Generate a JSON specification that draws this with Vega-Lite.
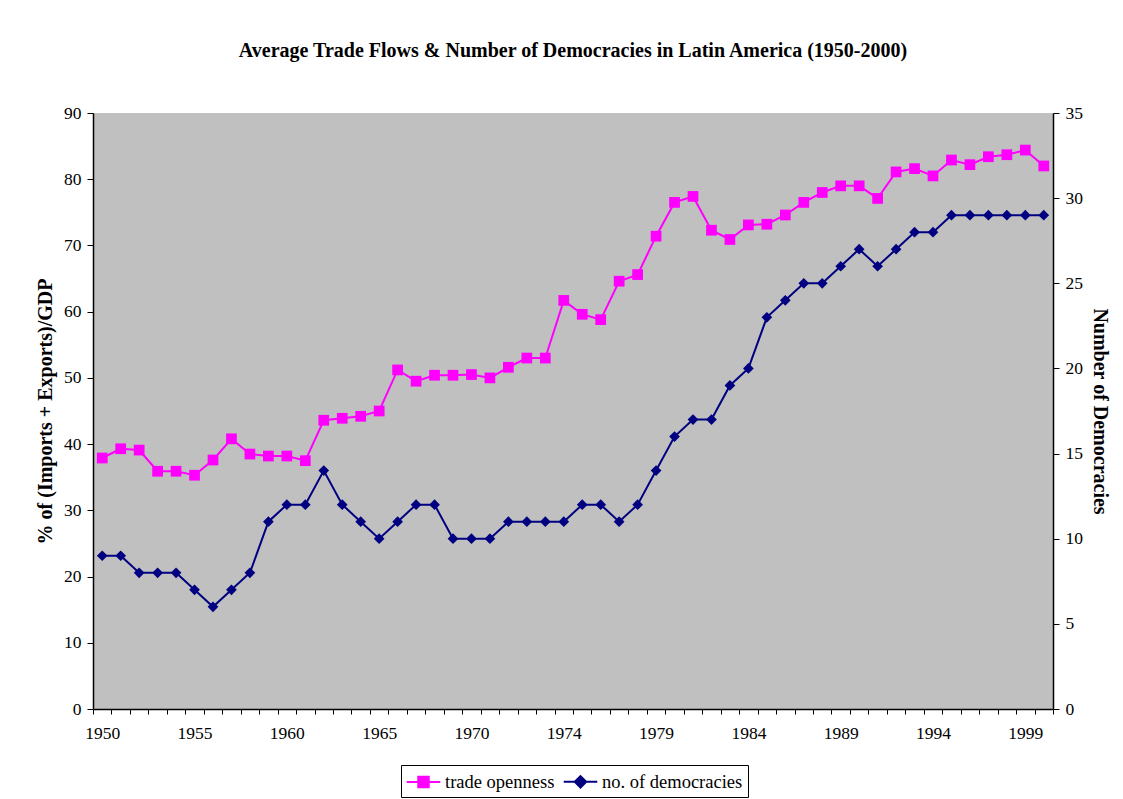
{
  "$schema": "https://vega.github.io/schema/vega-lite/v6.json",
  "width": 960,
  "height": 596,
  "autosize": {"type": "none"},
  "padding": {"left": 93, "top": 113, "right": 70, "bottom": 90},
  "background": "white",
  "title": {
    "text": "Average Trade Flows & Number of Democracies in Latin America (1950-2000)",
    "font": "Liberation Serif",
    "fontSize": 20,
    "fontWeight": "bold",
    "color": "black",
    "anchor": "middle",
    "offset": 43
  },
  "data": {
    "values": [
      {"year": "1950", "trade": 37.9, "dem": 9},
      {"year": "1951", "trade": 39.3, "dem": 9},
      {"year": "1952", "trade": 39.1, "dem": 8},
      {"year": "1953", "trade": 35.9, "dem": 8},
      {"year": "1954", "trade": 35.9, "dem": 8},
      {"year": "1955", "trade": 35.3, "dem": 7},
      {"year": "1956", "trade": 37.6, "dem": 6},
      {"year": "1957", "trade": 40.8, "dem": 7},
      {"year": "1958", "trade": 38.5, "dem": 8},
      {"year": "1959", "trade": 38.2, "dem": 11},
      {"year": "1960", "trade": 38.2, "dem": 12},
      {"year": "1961", "trade": 37.5, "dem": 12},
      {"year": "1962", "trade": 43.6, "dem": 14},
      {"year": "1963", "trade": 43.9, "dem": 12},
      {"year": "1964", "trade": 44.2, "dem": 11},
      {"year": "1965", "trade": 45.0, "dem": 10},
      {"year": "1966", "trade": 51.2, "dem": 11},
      {"year": "1967", "trade": 49.5, "dem": 12},
      {"year": "1968", "trade": 50.4, "dem": 12},
      {"year": "1969", "trade": 50.4, "dem": 10},
      {"year": "1970", "trade": 50.5, "dem": 10},
      {"year": "1971", "trade": 50.0, "dem": 10},
      {"year": "1972", "trade": 51.6, "dem": 11},
      {"year": "1973", "trade": 53.0, "dem": 11},
      {"year": "1973 (repeated)", "trade": 53.0, "dem": 11},
      {"year": "1974", "trade": 61.7, "dem": 11},
      {"year": "1975", "trade": 59.6, "dem": 12},
      {"year": "1976", "trade": 58.8, "dem": 12},
      {"year": "1977", "trade": 64.6, "dem": 11},
      {"year": "1978", "trade": 65.6, "dem": 12},
      {"year": "1979", "trade": 71.4, "dem": 14},
      {"year": "1980", "trade": 76.5, "dem": 16},
      {"year": "1981", "trade": 77.4, "dem": 17},
      {"year": "1982", "trade": 72.3, "dem": 17},
      {"year": "1983", "trade": 70.9, "dem": 19},
      {"year": "1984", "trade": 73.1, "dem": 20},
      {"year": "1985", "trade": 73.2, "dem": 23},
      {"year": "1986", "trade": 74.6, "dem": 24},
      {"year": "1987", "trade": 76.5, "dem": 25},
      {"year": "1988", "trade": 78.0, "dem": 25},
      {"year": "1989", "trade": 79.0, "dem": 26},
      {"year": "1990", "trade": 79.0, "dem": 27},
      {"year": "1991", "trade": 77.1, "dem": 26},
      {"year": "1992", "trade": 81.1, "dem": 27},
      {"year": "1993", "trade": 81.6, "dem": 28},
      {"year": "1994", "trade": 80.5, "dem": 28},
      {"year": "1995", "trade": 82.9, "dem": 29},
      {"year": "1996", "trade": 82.2, "dem": 29},
      {"year": "1997", "trade": 83.4, "dem": 29},
      {"year": "1998", "trade": 83.7, "dem": 29},
      {"year": "1999", "trade": 84.4, "dem": 29},
      {"year": "2000", "trade": 82.0, "dem": 29}
    ]
  },
  "encoding": {
    "x": {
      "field": "year",
      "type": "ordinal",
      "sort": null,
      "bandPosition": 0.5,
      "scale": {"type": "band", "paddingInner": 0, "paddingOuter": 0},
      "axis": {
        "title": null,
        "tickBand": "extent",
        "labelExpr": "round(datum.index * 51) % 5 == 0 ? datum.label : ''",
        "labelAngle": 0,
        "labelOverlap": false,
        "labelFont": "Liberation Serif",
        "labelFontSize": 17.5,
        "labelColor": "black",
        "labelPadding": 10,
        "tickColor": "black",
        "tickSize": 5,
        "domainColor": "black",
        "domainWidth": 1.5,
        "grid": false
      }
    }
  },
  "layer": [
    {
      "mark": {
        "type": "line",
        "strokeWidth": 2,
        "point": {"shape": "square", "size": 115, "filled": true, "opacity": 1}
      },
      "encoding": {
        "y": {
          "field": "trade",
          "type": "quantitative",
          "scale": {"domain": [0, 90], "nice": false},
          "axis": {
            "title": "% of (Imports + Exports)/GDP",
            "titleFont": "Liberation Serif",
            "titleFontSize": 20,
            "titleFontWeight": "bold",
            "titleColor": "black",
            "titlePadding": 8,
            "values": [0, 10, 20, 30, 40, 50, 60, 70, 80, 90],
            "labelFont": "Liberation Serif",
            "labelFontSize": 17.5,
            "labelColor": "black",
            "labelPadding": 6,
            "tickColor": "black",
            "tickSize": 6,
            "domainColor": "black",
            "domainWidth": 1.5,
            "grid": false
          }
        },
        "color": {
          "datum": "trade openness",
          "scale": {
            "domain": ["trade openness", "no. of democracies"],
            "range": ["#FF00FF", "#000080"]
          },
          "legend": {
            "orient": "none",
            "legendX": 308,
            "legendY": 652,
            "direction": "horizontal",
            "title": null,
            "strokeColor": "black",
            "fillColor": "white",
            "padding": 5,
            "labelFont": "Liberation Serif",
            "labelFontSize": 18.5,
            "labelColor": "black",
            "symbolOffset": 6,
            "labelOffset": 10,
            "columnPadding": 4,
            "symbolSize": 440,
            "symbolStrokeWidth": 2,
            "encode": {
              "symbols": {
                "update": {
                  "shape": {"signal": "datum.value === 'trade openness' ? 'M-1.6,0H1.6M-0.5,-0.5H0.5V0.5H-0.5Z' : 'M-1.6,0H1.6M0,-0.55L0.55,0L0,0.55L-0.55,0Z'"},
                  "fill": {"signal": "datum.value === 'trade openness' ? '#FF00FF' : '#000080'"},
                  "stroke": {"signal": "datum.value === 'trade openness' ? '#FF00FF' : '#000080'"},
                  "opacity": {"value": 1}
                }
              }
            }
          }
        }
      }
    },
    {
      "mark": {
        "type": "line",
        "strokeWidth": 2,
        "point": {"shape": "diamond", "size": 115, "filled": true, "opacity": 1}
      },
      "encoding": {
        "y": {
          "field": "dem",
          "type": "quantitative",
          "scale": {"domain": [0, 35], "nice": false},
          "axis": {
            "orient": "right",
            "title": "Number of Democracies",
            "titleFont": "Liberation Serif",
            "titleFontSize": 20,
            "titleFontWeight": "bold",
            "titleColor": "black",
            "titlePadding": 7,
            "values": [0, 5, 10, 15, 20, 25, 30, 35],
            "labelFont": "Liberation Serif",
            "labelFontSize": 17.5,
            "labelColor": "black",
            "labelPadding": 6,
            "tickColor": "black",
            "tickSize": 6,
            "domainColor": "black",
            "domainWidth": 1.5,
            "grid": false
          }
        },
        "color": {"datum": "no. of democracies"}
      }
    }
  ],
  "resolve": {"scale": {"y": "independent"}},
  "config": {
    "view": {"fill": "#C0C0C0", "stroke": null}
  }
}
